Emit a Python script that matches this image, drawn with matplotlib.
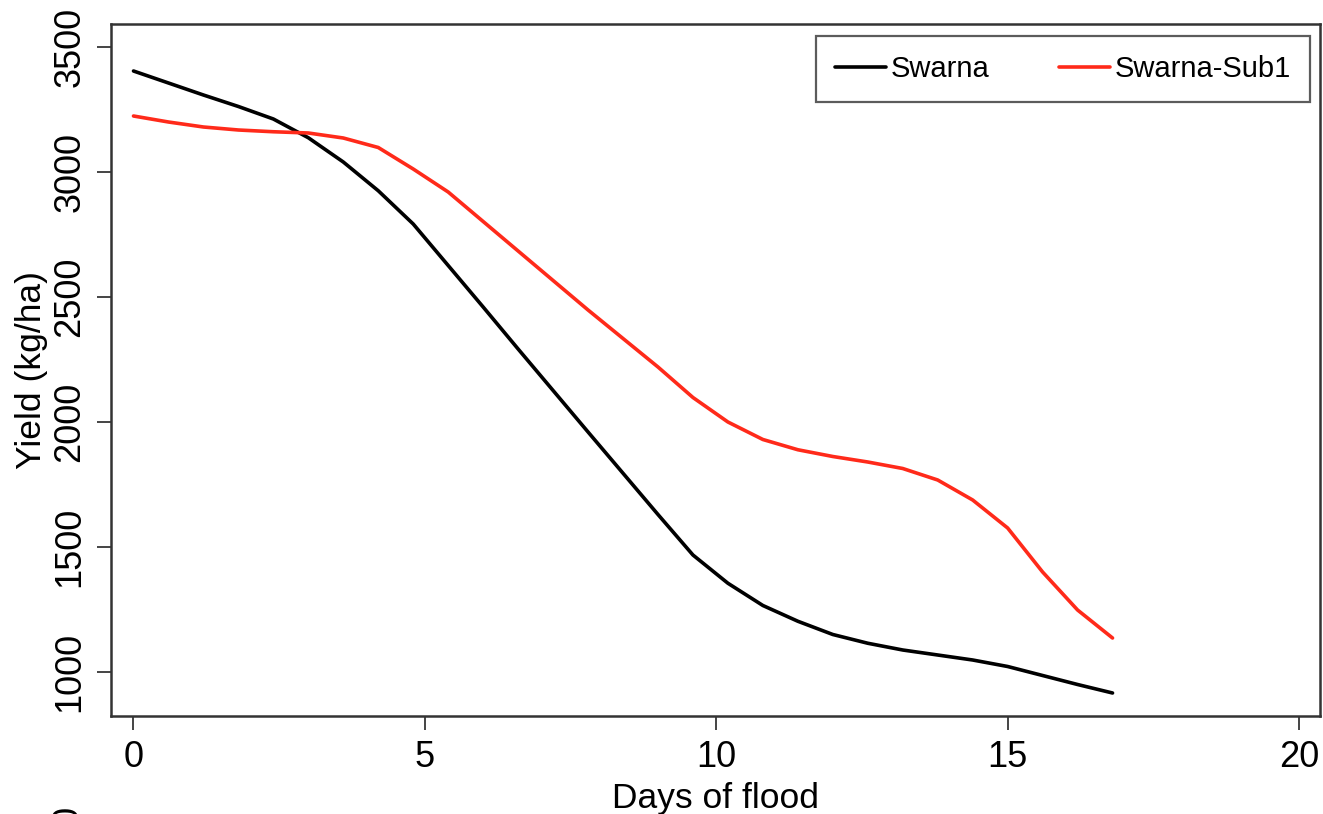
import matplotlib
matplotlib.use("Agg")
import matplotlib.pyplot as plt

plt.rcParams['font.family'] = ['Liberation Sans', 'DejaVu Sans']

days = [0.0, 0.6, 1.2, 1.8, 2.4, 3.0, 3.6, 4.2, 4.8, 5.4, 6.0, 6.6, 7.2, 7.8,
        8.4, 9.0, 9.6, 10.2, 10.8, 11.4, 12.0, 12.6, 13.2, 13.8, 14.4, 15.0,
        15.6, 16.2, 16.8]

swarna = [3404, 3356, 3308, 3262, 3212, 3137, 3040, 2925, 2792, 2626, 2460,
          2292, 2126, 1960, 1795, 1630, 1468, 1355, 1266, 1203, 1150, 1115,
          1088, 1068, 1048, 1022, 986, 950, 916]

swarna_sub1 = [3224, 3200, 3180, 3168, 3161, 3156, 3136, 3098, 3012, 2920,
               2802, 2684, 2566, 2448, 2334, 2220, 2098, 2000, 1930, 1889,
               1862, 1840, 1814, 1768, 1688, 1576, 1400, 1248, 1136]

series_names = ["Swarna", "Swarna-Sub1"]
series_colors = ["black", "#ff2a1a"]

xticks = [0, 5, 10, 15, 20]
yticks = [1000, 1500, 2000, 2500, 3000, 3500]

W, H = 1323, 814
fig = plt.figure(figsize=(W / 100, H / 100), dpi=100)
ax = fig.add_axes([111 / W, 1 - 716 / H, (1320 - 111) / W, (716 - 24) / H])

for vals, name, col in zip([swarna, swarna_sub1], series_names, series_colors):
    ax.plot(days, vals, color=col, lw=2.6, label=name, solid_capstyle='round',
            solid_joinstyle='round')

ax.set_xlim(-0.386, 20.36)
ax.set_ylim(824, 3592)
ax.set_xticks(xticks)
ax.set_yticks(yticks)
ax.set_yticklabels([str(v) for v in yticks], rotation=90, va='center')
ax.tick_params(axis='both', direction='out', length=10, width=1.4,
               color='#444444', labelsize=26)
ax.tick_params(axis='y', pad=7)
ax.tick_params(axis='x', pad=7)
for s in ax.spines.values():
    s.set_linewidth(1.8)
    s.set_color('#333333')

ax.set_xlabel("Days of flood", fontsize=25.5, labelpad=5)
ax.set_ylabel("Yield (kg/ha)", fontsize=25.5, labelpad=3)

leg = ax.legend(loc='upper right', bbox_to_anchor=(0.9917, 0.9827), ncol=2,
                fontsize=21, handlelength=1.75, handletextpad=0.15,
                columnspacing=2.4, borderpad=0.65, borderaxespad=0,
                frameon=True, fancybox=False)
leg.get_frame().set_edgecolor('#333333')
leg.get_frame().set_linewidth(1.6)

# cut-off tick label of the panel below (partially visible in the reference)
fig.text(68 / W, (H - 805) / H, "3500", rotation=90, ha='center', va='top',
         fontsize=26)

fig.savefig("out.png", dpi=100)
